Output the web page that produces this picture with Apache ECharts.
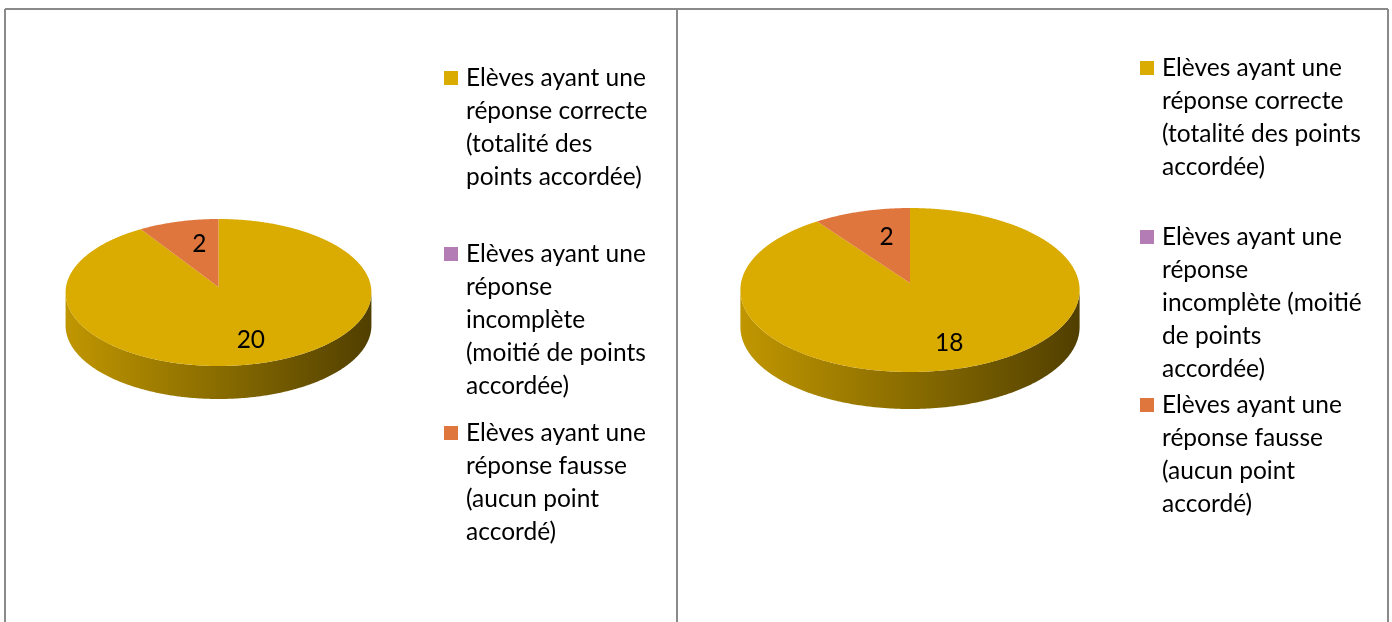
<!DOCTYPE html>
<html>
<head>
<meta charset="utf-8">
<script src="https://cdn.jsdelivr.net/npm/echarts@6/dist/echarts.min.js"></script>
<style>
html,body{margin:0;padding:0;background:#fff;}
#c{width:1392px;height:622px;}
</style>
</head>
<body>
<div id="c"></div>
<script>
// ---- data ----
const categories = [
  'Elèves ayant une réponse correcte (totalité des points accordée)',
  'Elèves ayant une réponse incomplète (moitié de points accordée)',
  'Elèves ayant une réponse fausse (aucun point accordé)'
];
const valuesLeft = [20, 0, 2];
const valuesRight = [18, 0, 2];
const legendLinesLeft = [
  ['Elèves ayant une', 'réponse correcte', '(totalité des', 'points accordée)'],
  ['Elèves ayant une', 'réponse', 'incomplète', '(moitié de points', 'accordée)'],
  ['Elèves ayant une', 'réponse fausse', '(aucun point', 'accordé)']
];
const legendLinesRight = [
  ['Elèves ayant une', 'réponse correcte', '(totalité des points', 'accordée)'],
  ['Elèves ayant une', 'réponse', 'incomplète (moitié', 'de points', 'accordée)'],
  ['Elèves ayant une', 'réponse fausse', '(aucun point', 'accordé)']
];
const sliceColors = ['#DAAB00', '#B47CB5', '#DF763D'];

// ---- style / layout ----
const FONT = 'Lato';
function fitFontSize() {
  try {
    const ctx = document.createElement('canvas').getContext('2d');
    ctx.font = '100px ' + FONT;
    const w = ctx.measureText('Elèves ayant une').width;
    const s = 100 * 180 / w;
    return isFinite(s) ? Math.max(20, Math.min(28, s)) : 24;
  } catch (e) { return 24; }
}
const FS = fitFontSize();
const LH = 33;
const ICON_W = 20;

const panels = [
  { values: valuesLeft, lines: legendLinesLeft, cx: 218.5, topY: 219, bottomY: 366, apexY: 287,
    rx: 152.5, depth: 33, legendX: 444, legendY: [78, 254, 433] },
  { values: valuesRight, lines: legendLinesRight, cx: 910, topY: 208, bottomY: 372, apexY: 283,
    rx: 169, depth: 37, legendX: 1140, legendY: [68, 237, 405] }
];

function shade(hex, f) {
  const n = parseInt(hex.slice(1), 16);
  const r = Math.round(((n >> 16) & 255) * f), g = Math.round(((n >> 8) & 255) * f), b = Math.round((n & 255) * f);
  return 'rgb(' + r + ',' + g + ',' + b + ')';
}

function makeRender(panel, idx) {
  const total = panel.values.reduce((s, v) => s + v, 0);
  const before = panel.values.slice(0, idx).reduce((s, v) => s + v, 0);
  const a = panel.apexY - panel.topY, b = panel.bottomY - panel.apexY;
  const k = (a - b) / (a + b), A = a * (1 - k);
  const proj = (t, s) => {
    const u = s * Math.sin(t), v = -s * Math.cos(t), d = 1 + k * v;
    return [panel.cx + panel.rx * u / d, panel.apexY + A * v / d];
  };
  return function (params, api) {
    const val = api.value(0);
    const children = [];
    if (val > 0 && total > 0) {
      const a0 = before / total * 2 * Math.PI, a1 = (before + val) / total * 2 * Math.PI;
      const color = sliceColors[idx];
      const step = Math.PI / 360;
      // visible side wall
      const tv0 = Math.acos(k), tv1 = 2 * Math.PI - tv0;
      const ws = Math.max(a0, tv0), we = Math.min(a1, tv1);
      if (we > ws) {
        const top = [], bot = [];
        const n = Math.max(2, Math.ceil((we - ws) / step));
        for (let j = 0; j <= n; j++) {
          const p = proj(ws + (we - ws) * j / n, 1);
          top.push(p);
          bot.push([p[0], p[1] + panel.depth]);
        }
        children.push({
          type: 'polygon', z2: 1,
          shape: { points: top.concat(bot.reverse()) },
          style: {
            fill: new echarts.graphic.LinearGradient(panel.cx - panel.rx, 0, panel.cx + panel.rx, 0, [
              { offset: 0, color: shade(color, 0.88) },
              { offset: 0.5, color: shade(color, 0.63) },
              { offset: 1, color: shade(color, 0.37) }
            ], true)
          }
        });
      }
      // top face
      const pts = [proj(0, 0)];
      const n = Math.max(2, Math.ceil((a1 - a0) / step));
      for (let j = 0; j <= n; j++) pts.push(proj(a0 + (a1 - a0) * j / n, 1));
      children.push({ type: 'polygon', z2: 2, shape: { points: pts }, style: { fill: color } });
      // data label
      const mid = (a0 + a1) / 2, mu = Math.sin(mid), mv = -Math.cos(mid);
      const ecy = (panel.topY + panel.bottomY) / 2, ery = (panel.bottomY - panel.topY) / 2;
      const lx = panel.cx + panel.rx * mu * (0.6 + 0.16 * mv);
      const ly = ecy + ery * mv * 0.68;
      children.push({
        type: 'text', z2: 3,
        style: { text: String(val), x: lx, y: ly, align: 'center', verticalAlign: 'middle',
                 fontFamily: FONT, fontSize: FS, fill: '#000' }
      });
    }
    return { type: 'group', children: children };
  };
}

const series = [];
const legends = [];
panels.forEach((panel) => {
  categories.forEach((name, i) => {
    series.push({
      type: 'custom', name: name, coordinateSystem: 'none',
      data: [panel.values[i]],
      renderItem: makeRender(panel, i),
      itemStyle: { color: sliceColors[i] },
      silent: true
    });
    const lines = panel.lines[i];
    const nl = lines.length;
    // leading blank lines so that the first text line sits level with the marker
    const text = new Array(nl - 1).fill('').concat(lines).join('\n');
    legends.push({
      orient: 'vertical', left: panel.legendX, top: panel.legendY[i] - (2 * nl - 1) * LH / 2,
      padding: 0, itemGap: 0, itemWidth: ICON_W, itemHeight: 14,
      icon: 'path://M0,0H10V10H0Z', symbolKeepAspect: true,
      selectedMode: false,
      data: [name],
      formatter: () => text,
      textStyle: { fontFamily: FONT, fontSize: FS, lineHeight: LH, color: '#000' }
    });
  });
});

const borderStyle = { stroke: '#8a8a8a', lineWidth: 2 };
const chart = echarts.init(document.getElementById('c'), null, { renderer: 'canvas' });
chart.setOption({
  animation: false,
  backgroundColor: '#fff',
  legend: legends,
  series: series,
  graphic: [
    { type: 'line', shape: { x1: 5, y1: 9, x2: 1388, y2: 9 }, style: borderStyle },
    { type: 'line', shape: { x1: 5, y1: 9, x2: 5, y2: 640 }, style: borderStyle },
    { type: 'line', shape: { x1: 677, y1: 9, x2: 677, y2: 640 }, style: borderStyle },
    { type: 'line', shape: { x1: 1388, y1: 9, x2: 1388, y2: 640 }, style: borderStyle }
  ]
});
</script>
</body>
</html>
